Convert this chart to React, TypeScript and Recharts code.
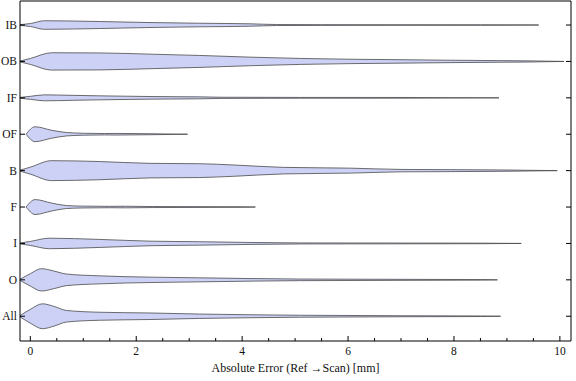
import { Area, ComposedChart, Label, XAxis, YAxis } from "recharts";

// categories from top to bottom
const categories = ["IB", "OB", "IF", "OF", "B", "F", "I", "O", "All"];

const majorTicks = [0, 2, 4, 6, 8, 10];
const minorTicks = [0, 0.5, 1, 1.5, 2, 2.5, 3, 3.5, 4, 4.5, 5, 5.5, 6, 6.5, 7, 7.5, 8, 8.5, 9, 9.5, 10];
const categoryTicks = [1, 2, 3, 4, 5, 6, 7, 8, 9];

// [absolute error mm, violin half width (in category spacing)]
const ibProfile = [
  [-0.2, 0.01], [0, 0.041], [0.27, 0.118], [0.8, 0.11], [1.31, 0.096], [2.26, 0.068], [3.2, 0.049],
  [4.15, 0.033], [4.65, 0.014], [5.5, 0.01], [7, 0.008], [8.5, 0.007], [9.6, 0],
];
const obProfile = [
  [-0.2, 0.01], [0, 0.082], [0.4, 0.238], [1.31, 0.233], [2.26, 0.2], [3.2, 0.164], [4.15, 0.118],
  [5.1, 0.082], [6.05, 0.06], [7, 0.047], [7.94, 0.033], [8.89, 0.022], [9.5, 0.014], [10.08, 0],
];
const ifProfile = [
  [-0.2, 0.01], [0, 0.041], [0.27, 0.082], [0.8, 0.068], [1.31, 0.055], [2.26, 0.036], [3.2, 0.027],
  [3.6, 0.016], [5.1, 0.011], [7, 0.01], [8.85, 0],
];
const ofProfile = [
  [-0.08, 0], [0.09, 0.205], [0.4, 0.11], [0.68, 0.047], [1.0, 0.027], [1.4, 0.019], [1.6, 0.022],
  [2.26, 0.014], [2.97, 0],
];
const bProfile = [
  [-0.2, 0.01], [0, 0.096], [0.4, 0.274], [1.31, 0.25], [2.26, 0.2], [3.2, 0.19], [3.83, 0.156],
  [4.78, 0.09], [6.05, 0.068], [7, 0.033], [7.94, 0.027], [8.89, 0.019], [9.95, 0],
];
const fProfile = [
  [-0.08, 0], [0.09, 0.205], [0.4, 0.11], [0.68, 0.041], [1.0, 0.025], [1.5, 0.019], [1.8, 0.022],
  [2.3, 0.014], [4.0, 0.008], [4.25, 0],
];
const iProfile = [
  [-0.2, 0.01], [0, 0.055], [0.36, 0.145], [1.31, 0.11], [2.26, 0.063], [3.2, 0.047], [4.15, 0.027],
  [5.1, 0.014], [7, 0.011], [8.5, 0.008], [9.27, 0],
];
const oProfile = [
  [-0.2, 0.01], [0, 0.17], [0.21, 0.307], [0.45, 0.24], [0.68, 0.16], [1.31, 0.11], [2.26, 0.074],
  [3.2, 0.055], [4.15, 0.036], [5.1, 0.022], [7, 0.014], [8.5, 0.008], [8.82, 0],
];
const allProfile = [
  [-0.2, 0.01], [0, 0.19], [0.23, 0.342], [0.45, 0.27], [0.68, 0.16], [1.31, 0.11], [2.26, 0.09],
  [3.2, 0.06], [4.15, 0.041], [5.1, 0.027], [7, 0.014], [8.5, 0.008], [8.88, 0],
];

const profiles = [ibProfile, obProfile, ifProfile, ofProfile, bProfile, fProfile, iProfile, oProfile, allProfile];

const font = "'Liberation Serif', 'Times New Roman', serif";

function BottomTick(props: any) {
  const { x, y, payload } = props;
  const major = majorTicks.includes(payload.value);
  return (
    <g>
      <line x1={x} x2={x} y1={y} y2={y - (major ? 5 : 3)} stroke="#000" />
      {major && (
        <text x={x} y={y + 14} textAnchor="middle" fontFamily={font} fontSize={11.5} fill="#111">
          {payload.value}
        </text>
      )}
    </g>
  );
}

function TopTick(props: any) {
  const { x, y, payload } = props;
  const major = majorTicks.includes(payload.value);
  return <line x1={x} x2={x} y1={y} y2={y + (major ? 5 : 3)} stroke="#000" />;
}

function LeftTick(props: any) {
  const { x, y, payload } = props;
  return (
    <g>
      <line x1={x} x2={x + 5} y1={y} y2={y} stroke="#000" />
      <text x={x - 3} y={y + 4} textAnchor="end" fontFamily={font} fontSize={11.5} fill="#111">
        {categories[payload.value - 1]}
      </text>
    </g>
  );
}

function RightTick(props: any) {
  const { x, y } = props;
  return <line x1={x} x2={x - 5} y1={y} y2={y} stroke="#000" />;
}

const xDomain = [-0.195, 10.21];
const yDomain = [0.34, 9.68];

export default function App() {
  return (
    <div style={{ position: "absolute", left: 0, top: 0, background: "#fff" }}>
      <ComposedChart width={576} height={381} margin={{ top: 0, right: 4, bottom: 0, left: 0 }}>
        <XAxis
          type="number"
          dataKey="x"
          domain={xDomain}
          allowDataOverflow
          ticks={minorTicks}
          interval={0}
          height={40}
          tickSize={0}
          tickMargin={0}
          tick={<BottomTick />}
          axisLine={{ stroke: "#000" }}
        >
          <Label
            value="Absolute Error (Ref →Scan) [mm]"
            position="insideBottom"
            offset={9}
            style={{ fontFamily: font, fontSize: 12, fill: "#111" }}
          />
        </XAxis>
        <XAxis
          xAxisId="top"
          orientation="top"
          type="number"
          domain={xDomain}
          allowDataOverflow
          ticks={minorTicks}
          interval={0}
          height={1}
          tickSize={0}
          tickMargin={0}
          tick={<TopTick />}
          axisLine={{ stroke: "#000" }}
        />
        <YAxis
          type="number"
          domain={yDomain}
          allowDataOverflow
          reversed
          ticks={categoryTicks}
          interval={0}
          width={20}
          tickSize={0}
          tickMargin={0}
          tick={<LeftTick />}
          axisLine={{ stroke: "#000" }}
        />
        <YAxis
          yAxisId="right"
          orientation="right"
          type="number"
          domain={yDomain}
          allowDataOverflow
          reversed
          ticks={categoryTicks}
          interval={0}
          width={1}
          tickSize={0}
          tickMargin={0}
          tick={<RightTick />}
          axisLine={{ stroke: "#000" }}
        />
        {profiles.map((profile, i) => {
          const pos = i + 1;
          const data = profile.map(([v, w]) => ({ x: v, band: [pos - w, pos + w] }));
          return (
            <Area
              key={categories[i]}
              data={data}
              dataKey="band"
              type="monotone"
              stroke="#4a4a4a"
              strokeWidth={0.8}
              fill="#ccd1f5"
              fillOpacity={1}
              isAnimationActive={false}
            />
          );
        })}
      </ComposedChart>
    </div>
  );
}
